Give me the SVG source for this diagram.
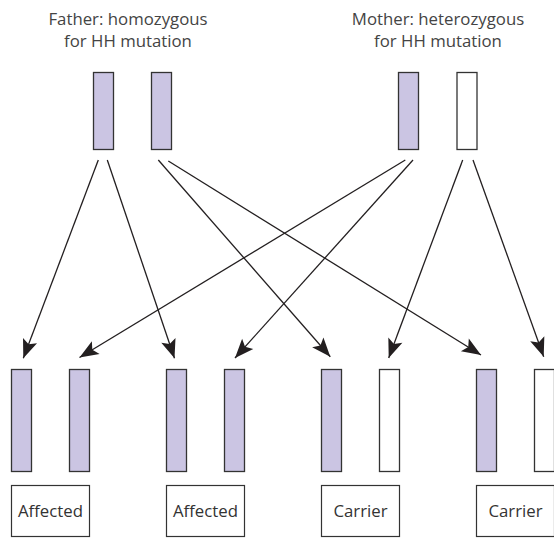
<svg xmlns="http://www.w3.org/2000/svg" width="554" height="538" viewBox="0 0 554 538">
<defs>
<style>
.hdr{font-family:"Open Sans","Noto Sans","DejaVu Sans",sans-serif;font-size:16.8px;fill:#444;text-anchor:middle}
.lbl{font-family:"Open Sans","Noto Sans","DejaVu Sans",sans-serif;font-size:16.8px;fill:#333;text-anchor:middle}
.mut{fill:#cbc5e3;stroke:#333;stroke-width:1.3}
.wt{fill:#fff;stroke:#333;stroke-width:1.3}
.box{fill:#fff;stroke:#333;stroke-width:1.2}
.arr{stroke:#231f20;stroke-width:1.3;fill:none;marker-end:url(#ah)}
</style>
<marker id="ah" markerUnits="userSpaceOnUse" markerWidth="22" markerHeight="18" viewBox="-21 -9 22 18" refX="0" refY="0" orient="auto">
<path d="M0,0 L-19,-7.5 L-15,0 L-19,7.5 Z" fill="#231f20"/>
</marker>
</defs>
<g id="father">
<text class="hdr" x="128" y="25">Father: homozygous</text>
<text class="hdr" x="128" y="46.5">for HH mutation</text>
<rect class="mut" x="93.5" y="72.5" width="20" height="77"/>
<rect class="mut" x="151.5" y="72.5" width="20" height="77"/>
</g>
<g id="mother">
<text class="hdr" x="438" y="25">Mother: heterozygous</text>
<text class="hdr" x="438" y="46.5">for HH mutation</text>
<rect class="mut" x="398.5" y="72.5" width="20" height="77"/>
<rect class="wt" x="457" y="72.5" width="20" height="77"/>
</g>
<g id="connectors">
<line class="arr" x1="98.3" y1="160" x2="23.3" y2="358.3"/>
<line class="arr" x1="107.3" y1="160" x2="174.5" y2="358.3"/>
<line class="arr" x1="158.3" y1="160" x2="330.3" y2="356.7"/>
<line class="arr" x1="168.3" y1="161" x2="481" y2="355"/>
<line class="arr" x1="405.3" y1="160" x2="79.5" y2="357.5"/>
<line class="arr" x1="413" y1="160" x2="235" y2="358"/>
<line class="arr" x1="462.7" y1="160" x2="388.7" y2="358"/>
<line class="arr" x1="473" y1="160" x2="543.7" y2="356.7"/>
</g>
<g id="child1">
<rect class="mut" x="11.5" y="369.5" width="20" height="102"/>
<rect class="mut" x="69.5" y="369.5" width="20" height="102"/>
<rect class="box" x="11.5" y="485.5" width="78" height="51"/>
<text class="lbl" x="50.5" y="517">Affected</text>
</g>
<g id="child2">
<rect class="mut" x="166.5" y="369.5" width="20" height="102"/>
<rect class="mut" x="224.5" y="369.5" width="20" height="102"/>
<rect class="box" x="166.5" y="485.5" width="78" height="51"/>
<text class="lbl" x="205.5" y="517">Affected</text>
</g>
<g id="child3">
<rect class="mut" x="321.5" y="369.5" width="20" height="102"/>
<rect class="wt" x="379.5" y="369.5" width="20" height="102"/>
<rect class="box" x="321.5" y="485.5" width="78" height="51"/>
<text class="lbl" x="360.5" y="517">Carrier</text>
</g>
<g id="child4">
<rect class="mut" x="476.5" y="369.5" width="20" height="102"/>
<rect class="wt" x="534.5" y="369.5" width="20" height="102"/>
<rect class="box" x="476.5" y="485.5" width="78" height="51"/>
<text class="lbl" x="515.5" y="517">Carrier</text>
</g>
</svg>
